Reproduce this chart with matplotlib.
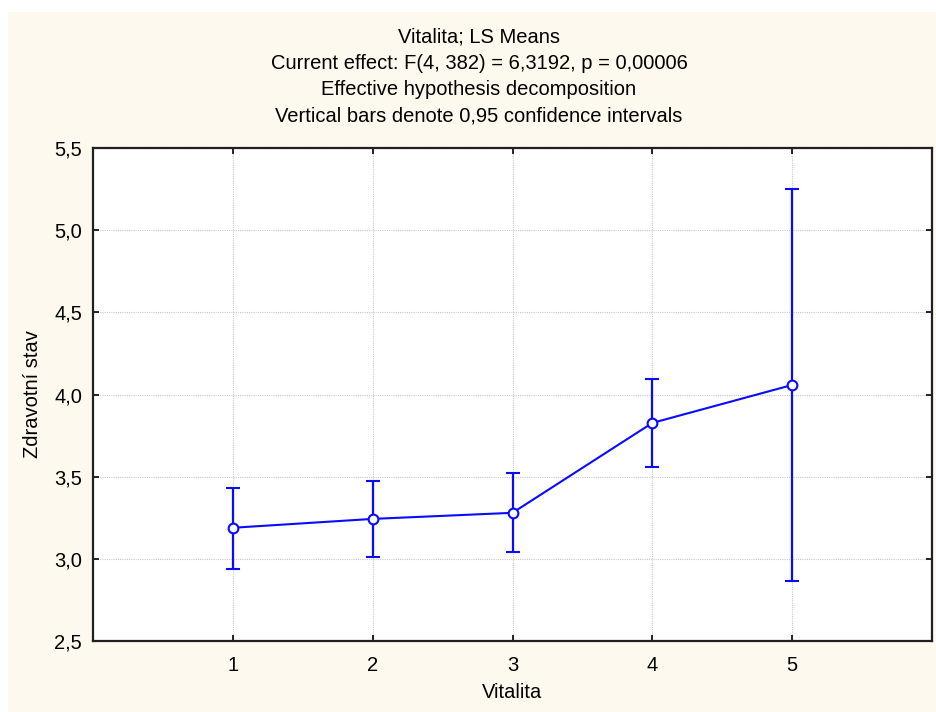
import matplotlib
matplotlib.use("Agg")
import matplotlib.pyplot as plt
from matplotlib.patches import Rectangle

plt.rcParams['font.family'] = ['Liberation Sans', 'DejaVu Sans']

levels = [1, 2, 3, 4, 5]
means = [3.189, 3.243, 3.280, 3.827, 4.058]
ci_upper = [3.432, 3.474, 3.523, 4.095, 5.251]
ci_lower = [2.939, 3.012, 3.043, 3.560, 2.866]
y_ticks = [2.5, 3.0, 3.5, 4.0, 4.5, 5.0, 5.5]
y_tick_labels = ["2,5", "3,0", "3,5", "4,0", "4,5", "5,0", "5,5"]
title_lines = [
    "Vitalita; LS Means",
    "Current effect: F(4, 382) = 6,3192, p = 0,00006",
    "Effective hypothesis decomposition",
    "Vertical bars denote 0,95 confidence intervals",
]

W, H = 936, 712
FS = 14.5
fig = plt.figure(figsize=(W / 100, H / 100), dpi=100, facecolor="white")
fig.patches.append(Rectangle((8 / W, 0), 1 - 8 / W, 1 - 12 / H,
                             transform=fig.transFigure, facecolor="#fef9ee",
                             edgecolor="none", zorder=-10))

ax = fig.add_axes([93 / W, 1 - 641 / H, (932 - 93) / W, (641 - 148) / H])
ax.set_facecolor("white")

err_lo = [m - lo for m, lo in zip(means, ci_lower)]
err_hi = [hi - m for m, hi in zip(means, ci_upper)]
ax.errorbar(levels, means, yerr=[err_lo, err_hi], color="#0a0aff", lw=1.5,
            elinewidth=1.6, capsize=4.7, capthick=1.6, marker="o", ms=7,
            mfc="white", mec="#0a0aff", mew=1.5, zorder=3)

ax.set_xlim(0, 6)
ax.set_ylim(2.5, 5.5)
ax.set_xticks(levels)
ax.set_xticklabels([str(v) for v in levels])
ax.set_yticks(y_ticks)
ax.set_yticklabels(y_tick_labels)
ax.grid(True, color="#c8c8c8", linestyle=(0, (1, 1)), linewidth=0.8)
ax.tick_params(direction="in", length=4, width=1.2, top=True, right=True,
               labelsize=FS, colors="black")
ax.tick_params(axis="x", pad=11)
ax.tick_params(axis="y", pad=8)
for s in ax.spines.values():
    s.set_linewidth(1.6)
    s.set_color("#202020")

# axis titles
fig.text((93 + 932) / 2 / W, 1 - 693 / H, "Vitalita", ha="center",
         va="center", fontsize=FS)
fig.text(33 / W, 1 - (148 + 641) / 2 / H, "Zdravotní stav", ha="center",
         va="center", rotation=90, fontsize=FS)

for i, line in enumerate(title_lines):
    fig.text(479 / W, 1 - (37 + 26.3 * i) / H, line,
             ha="center", va="center", fontsize=FS)

fig.savefig("out.png", dpi=100, facecolor=fig.get_facecolor())
